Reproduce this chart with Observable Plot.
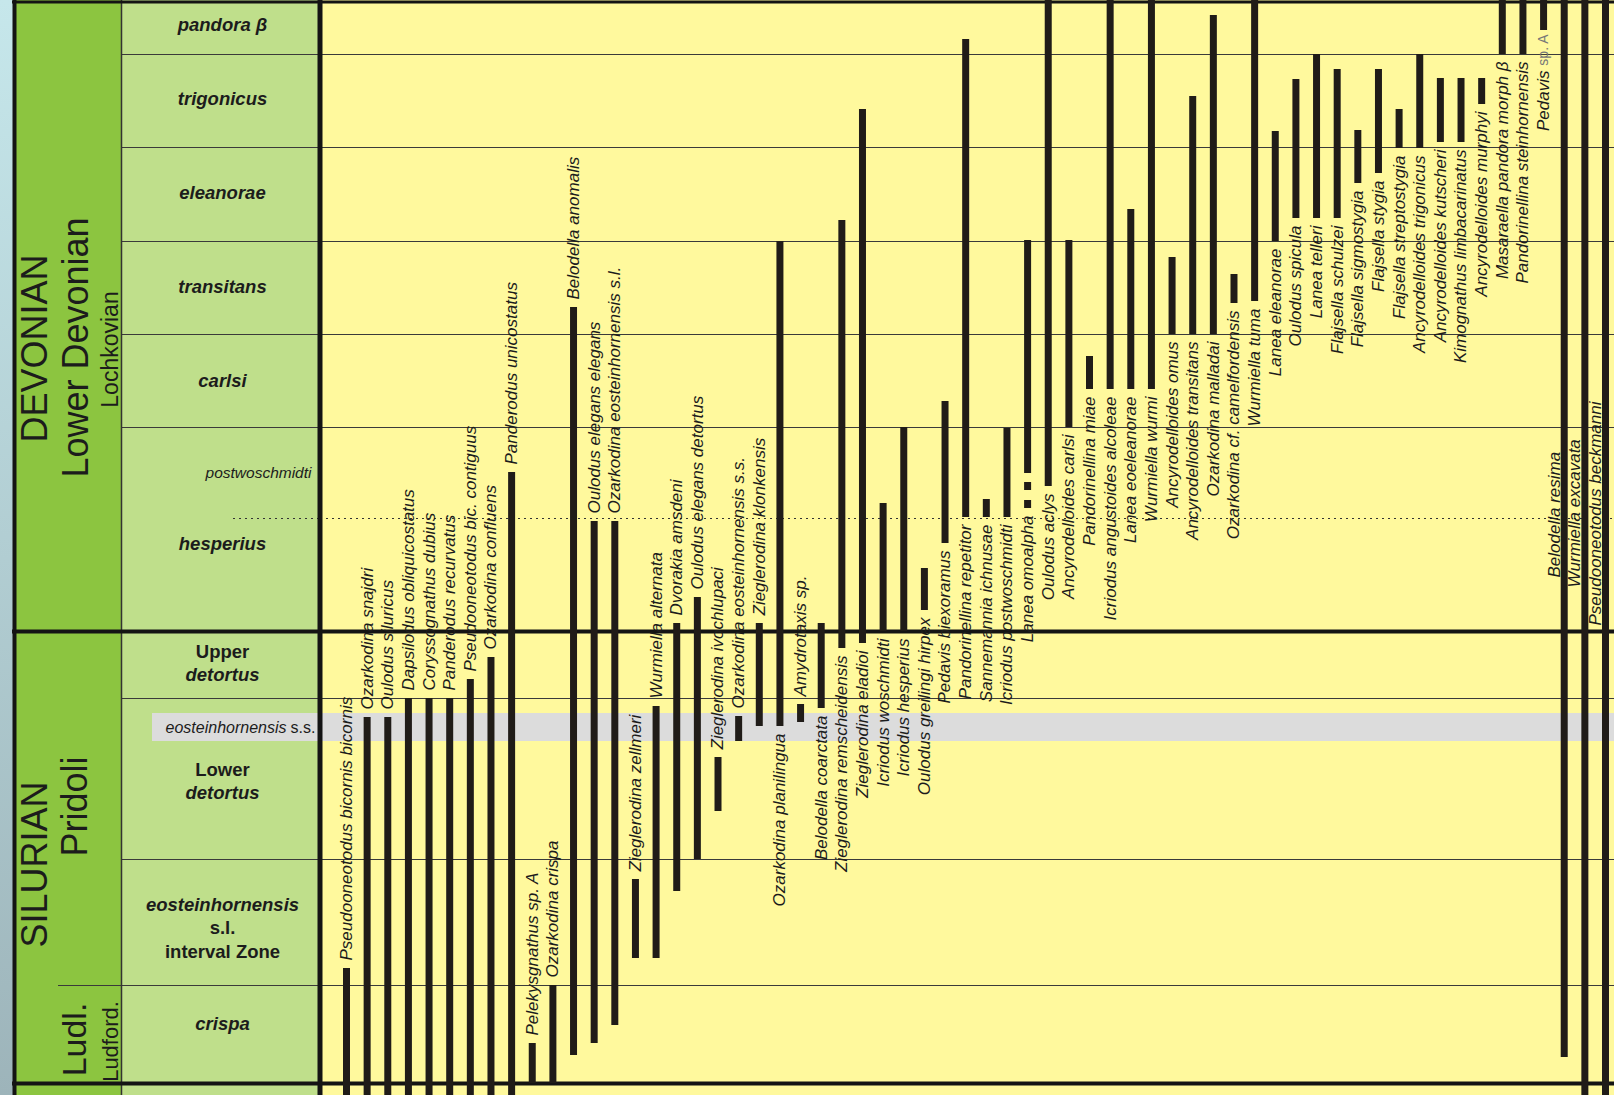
<!DOCTYPE html>
<html><head><meta charset="utf-8">
<script src="https://cdn.jsdelivr.net/npm/d3@7"></script>
<script src="https://cdn.jsdelivr.net/npm/@observablehq/plot@0.6"></script>
<style>
html,body{margin:0;padding:0;}
body{width:1614px;height:1095px;overflow:hidden;background:linear-gradient(#c6e7eb,#9db4ba);font-family:"Liberation Sans",Arial,sans-serif;}
#wrap{position:relative;width:1614px;height:1095px;}
#left,#right{position:absolute;top:0;}
#left{left:0;z-index:2;}
#right{left:320px;z-index:1;}
svg{overflow:visible;display:block;}
</style></head><body><div id="wrap"><div id="right"></div><div id="left"></div></div>
<script>
// ---------- DATA (stratigraphic levels, relative units, 0 = base of chart) ----------
const species = [
"Pseudooneotodus bicornis bicornis","Ozarkodina snajdri","Oulodus siluricus","Dapsilodus obliquicostatus",
"Coryssognathus dubius","Panderodus recurvatus","Pseudooneotodus bic. contiguus","Ozarkodina confluens",
"Panderodus unicostatus","Pelekysgnathus sp. A","Ozarkodina crispa","Belodella anomalis",
"Oulodus elegans elegans","Ozarkodina eosteinhornensis s.l.","Zieglerodina zellmeri","Wurmiella alternata",
"Dvorakia amsdeni","Oulodus elegans detortus","Zieglerodina ivochlupaci","Ozarkodina eosteinhornensis s.s.",
"Zieglerodina klonkensis","Ozarkodina planilingua","Amydrotaxis sp.","Belodella coarctata",
"Zieglerodina remscheidensis","Zieglerodina eladioi","Icriodus woschmidti","Icriodus hesperius",
"Oulodus greilingi hirpex","Pedavis biexoramus","Pandorinellina repetitor","Sannemannia ichnusae",
"Icriodus postwoschmidti","Lanea omoalpha","Oulodus aclys","Ancyrodelloides carlsi",
"Pandorinellina miae","Icriodus angustoides alcoleae","Lanea eoeleanorae","Wurmiella wurmi",
"Ancyrodelloides omus","Ancyrodelloides transitans","Ozarkodina malladai","Ozarkodina cf. camelfordensis",
"Wurmiella tuma","Lanea eleanorae","Oulodus spicula","Lanea telleri",
"Flajsella schulzei","Flajsella sigmostygia","Flajsella stygia","Flajsella streptostygia",
"Ancyrodelloides trigonicus","Ancyrodelloides kutscheri","Kimognathus limbacarinatus","Ancyrodelloides murphyi",
"Masaraella pandora morph β","Pandorinellina steinhornensis","Pedavis sp. A","Belodella resima",
"Wurmiella excavata","Pseudooneotodus beckmanni"
];
const rangeBase = [-12,-12,-12,-12,-12,-12,-12,-12,-12,0,0,28,40,58,125,125,192,224,272,342,357,357,361,375,435,440,452,452,473,540,566,566,566,610,597,656,694,694,694,694,749,749,749,780,782,842,865,865,865,900,910,935,935,941,941,979,1029,1029,1053,26,-12,-12];
const rangeTop  = [115,366,366,385,385,385,404,426,611,40,98,776,562,562,204,377,460,486,326,367,460,842,379,460,863,974,580,656,515,682,1044,584,655,843,1083,843,727,1083,874,1083,826,987,1068,809,1083,952,1004,1029,1014,953,1014,974,1029,1005,1005,1005,1083,1083,1083,1083,1083,1083];
// where the name is written: above the range, below it, or beside it
const labelSide = [
"above","above","above","above","above","above","above","above","above","above","above","above",
"above","above","above","above","above","above","above","above","above","below","above","below",
"below","below","below","below","below","below","below","below","below","below","below","below",
"below","below","below","below","below","below","below","below","below","below","below","below",
"below","below","below","below","below","below","below","below","below","below","below","beside",
"beside","beside"];
// uncertain (dashed) range extension
const uncertainName = ["Lanea omoalpha"];
const uncertainTop = [601];
const uncertainBase = [575];

// conodont zones
const zoneNames = ["crispa","eosteinhornensis s.l. interval Zone","Lower detortus","Upper detortus","hesperius","carlsi","transitans","eleanorae","trigonicus","pandora β"];
const zoneBase = [0,98,224,385,452,656,749,842,936,1029];
const zoneTop  = [98,224,385,452,656,749,842,936,1029,1082];
const zoneLines = [["crispa"],["eosteinhornensis","s.l.","interval Zone"],["Lower","detortus"],["Upper","detortus"],["hesperius"],["carlsi"],["transitans"],["eleanorae"],["trigonicus"],["pandora β"]];
const subzoneName = "postwoschmidti";
const subzoneBase = 565, subzoneTop = 656;
const ssName = "eosteinhornensis", ssQual = "s.s.";
const ssBase = 342, ssTop = 370;
const systemBoundary = 452;   // Silurian / Devonian
const seriesBoundary = 98;    // Ludlow / Pridoli

// ---------- LAYOUT ----------
const C = {bar:"#201c18", yellow:"#fff99d", light:"#bfdf8b", dark:"#8cc540", gray:"#dcdcdc", line:"#3a3a3a", ink:"#1c1c1c"};
const FONT = "Liberation Sans, Arial, sans-serif";
const yScale = {domain:[-12,1083], range:[1095,0], axis:null};
const zoneLabelLevel = [59,155,302,420,539,702,796,890,984,1058];
const sideLabelLevel = {"Belodella resima":506,"Wurmiella excavata":496,"Pseudooneotodus beckmanni":458};
const plainWords = new Set(["Upper","Lower","s.l.","interval Zone"]);

const ranges = species.map((name,i)=>({name, base:rangeBase[i], top:rangeTop[i], side:labelSide[i]}));
const uncertain = uncertainName.map((name,i)=>({name, top:uncertainTop[i], base:uncertainBase[i]}));
ranges.forEach(d=>{ const u = uncertain.find(e=>e.name===d.name); d.labelAt = u ? Math.min(d.base,u.base) : d.base; });
const thinBounds = zoneBase.filter(v=> v!==0 && v!==systemBoundary);
const zoneLabelRows = [];
zoneLines.forEach((lines,i)=>{
  const n = lines.length;
  lines.forEach((t,j)=> zoneLabelRows.push({text:t, level: zoneLabelLevel[i] + ((n-1)/2 - j)*23.5, plain: plainWords.has(t)}));
});

// ---------- RIGHT: range chart ----------
const below = ranges.filter(d=>d.side==="below" && d.name!=="Pedavis sp. A");
const pedavis = ranges.filter(d=>d.name==="Pedavis sp. A");
const txt = {rotate:-90, fontStyle:"italic", fontSize:17, fill:C.ink, fontFamily:FONT};
const right = Plot.plot({
  width:1294, height:1095, marginTop:0, marginBottom:0, marginLeft:0, marginRight:0,
  x:{type:"point", domain:species, range:[26,1285], padding:0, align:0.5, axis:null},
  y:yScale,
  style:{background:C.yellow, overflow:"visible", fontFamily:FONT},
  marks:[
    Plot.rect([{b:ssBase,t:ssTop}], {y1:"b", y2:"t", fill:C.gray}),
    Plot.ruleY(thinBounds, {stroke:C.line, strokeWidth:1.2}),
    Plot.ruleY([subzoneBase], {stroke:"#333", strokeWidth:1, strokeDasharray:"2,4"}),
    Plot.ruleY([0, systemBoundary], {stroke:"#141414", strokeWidth:4}),
    Plot.ruleY([1081.5], {stroke:"#141414", strokeWidth:3}),
    Plot.ruleX(ranges, {x:"name", y1:"base", y2:"top", stroke:C.bar, strokeWidth:7}),
    Plot.ruleX(uncertain, {x:"name", y1:"top", y2:"base", stroke:C.bar, strokeWidth:7, strokeDasharray:"8,10"}),
    Plot.text(ranges.filter(d=>d.side==="above"), {...txt, x:"name", y:"top", text:"name", textAnchor:"start", dy:-8}),
    Plot.text(below, {...txt, x:"name", y:"labelAt", text:"name", textAnchor:"end", dy:7}),
    Plot.text(pedavis, {...txt, x:"name", y:"labelAt", text:()=>"Pedavis", textAnchor:"end", dy:40}),
    Plot.text(pedavis, {...txt, x:"name", y:"labelAt", text:()=>"sp. A", fontStyle:"normal", fontSize:14, fill:"#777", textAnchor:"end", dy:4}),
    Plot.text(ranges.filter(d=>d.side==="beside"), {...txt, x:"name", y:d=>sideLabelLevel[d.name], text:"name", textAnchor:"start", dx:-10})
  ]
});
document.getElementById("right").appendChild(right);

// ---------- LEFT: chronostratigraphy & zones ----------
const big = {rotate:-90, fontSize:36, fill:C.ink, fontFamily:FONT, textAnchor:"middle"};
const zt = {x:222, y:"level", text:"text", fontSize:18.5, fontWeight:"bold", fill:C.ink, fontFamily:FONT, textAnchor:"middle"};
const left = Plot.plot({
  width:320, height:1095, marginTop:0, marginBottom:0, marginLeft:0, marginRight:0,
  x:{domain:[0,320], range:[0,320], axis:null},
  y:yScale,
  style:{background:"transparent", overflow:"visible", fontFamily:FONT},
  marks:[
    Plot.rect([0], {x1:16, x2:121, y1:-12, y2:1083, fill:C.dark}),
    Plot.rect([0], {x1:121, x2:319, y1:-12, y2:1083, fill:C.light}),
    Plot.rect([0], {x1:152, x2:320, y1:ssBase, y2:ssTop, fill:C.gray}),
    Plot.ruleY(thinBounds, {x1:121, x2:320, stroke:C.line, strokeWidth:1.2}),
    Plot.ruleY([seriesBoundary], {x1:58, x2:121, stroke:C.line, strokeWidth:1.2}),
    Plot.ruleY([subzoneBase], {x1:233, x2:320, stroke:"#333", strokeWidth:1, strokeDasharray:"2,4"}),
    Plot.ruleX([121], {stroke:"#333", strokeWidth:1.5}),
    Plot.ruleY([0, systemBoundary], {x1:12, x2:320, stroke:"#141414", strokeWidth:4}),
    Plot.ruleY([1081.5], {x1:12, x2:320, stroke:"#141414", strokeWidth:3}),
    Plot.ruleX([14], {stroke:"#141414", strokeWidth:4}),
    Plot.ruleX([319.5], {stroke:"#141414", strokeWidth:5}),
    // system / series / stage
    Plot.text(["DEVONIAN"], {...big, text:d=>d, x:35, y:735}),
    Plot.text(["Lower Devonian"], {...big, text:d=>d, x:76, y:736}),
    Plot.text(["Lochkovian"], {...big, fontSize:23, text:d=>d, x:110, y:734}),
    Plot.text(["SILURIAN"], {...big, text:d=>d, x:35, y:219}),
    Plot.text(["Pridoli"], {...big, text:d=>d, x:75, y:277}),
    Plot.text(["Ludl."], {...big, fontSize:34, text:d=>d, x:75, y:44}),
    Plot.text(["Ludford."], {...big, fontSize:22, text:d=>d, x:110, y:42}),
    // zones
    Plot.text(zoneLabelRows.filter(d=>!d.plain), {...zt, fontStyle:"italic"}),
    Plot.text(zoneLabelRows.filter(d=>d.plain), {...zt, fontStyle:"normal"}),
    Plot.text([subzoneName], {text:d=>d, x:258, y:(subzoneBase+subzoneTop)/2, fontSize:15.5, fontStyle:"italic", fill:C.ink, fontFamily:FONT}),
    Plot.text([ssQual], {text:d=>d, x:315, y:(ssBase+ssTop)/2, fontSize:16, fill:C.ink, textAnchor:"end", fontFamily:FONT}),
    Plot.text([ssName], {text:d=>d, x:286, y:(ssBase+ssTop)/2, fontSize:16, fontStyle:"italic", fill:C.ink, textAnchor:"end", fontFamily:FONT})
  ]
});
document.getElementById("left").appendChild(left);
</script>
</body></html>
